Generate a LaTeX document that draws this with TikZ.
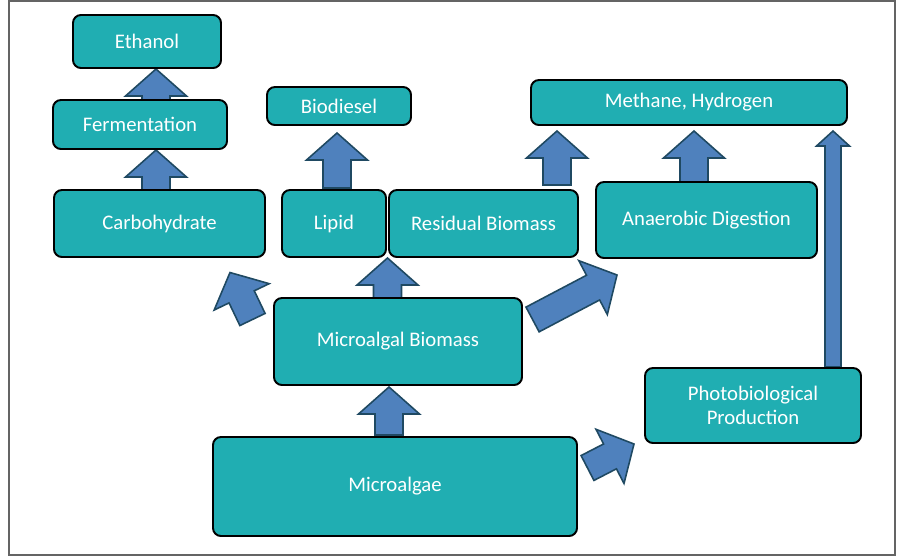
\documentclass[tikz,border=0pt]{standalone}
\usepackage{fontspec}
\setmainfont{Carlito}
\usetikzlibrary{positioning, calc, backgrounds}

\definecolor{boxteal}{RGB}{32,174,178}
\definecolor{arrowblue}{RGB}{79,129,189}
\definecolor{arrowedge}{RGB}{31,73,98}
\definecolor{framegray}{RGB}{100,100,100}

% block arrow: tail, tip, shaft half width, head half width, head length
\newcommand{\blockarrow}[5]{%
  \draw[barrow] let \p1=(#1), \p2=(#2),
      \n1={atan2(\y2-\y1,\x2-\x1)}, \n2={veclen(\x2-\x1,\y2-\y1)} in
    (\p1) ++(\n1+90:#3) -- ++(\n1:\n2*1pt-#5) -- ++(\n1+90:#4-#3) -- (\p2)
    -- ($(\p2)+(\n1+180:#5)+(\n1-90:#4)$) -- ++(\n1+90:#4-#3)
    -- ++(\n1+180:\n2*1pt-#5) -- cycle;}
\newcommand{\fatarrow}[2]{\blockarrow{#1}{#2}{0.28cm}{0.61cm}{0.54cm}}

\begin{document}
\begin{tikzpicture}[x=0.02cm, y=-0.02cm, font=\fontsize{11.8}{14}\selectfont,
  box/.style={draw=black, line width=1.1pt, rounded corners=4.5pt, fill=boxteal,
    text=white, inner sep=0pt, outer sep=0pt, align=center},
  boxsize/.style 2 args={minimum width=#1*0.02cm, minimum height=#2*0.02cm},
  barrow/.style={draw=arrowedge, line width=0.9pt, fill=arrowblue, line join=miter}]
  \useasboundingbox (0,0) rectangle (907,558);
  \draw[framegray, line width=1.2pt] (9,1) rectangle (895,555);

  \node[box, boxsize={148}{53}] (ethanol) at (147,41.5) {Ethanol};
  \node[box, boxsize={174}{49}] (ferm) at (140,124.5) {Fermentation};
  \node[box, boxsize={211}{67}] (carb) at (159.5,223.5) {Carbohydrate};
  \node[box, boxsize={104}{67}] (lipid) at (334,223.5) {Lipid};
  \node[box, boxsize={189}{67}, right=0.06cm of lipid] (resid) {Residual Biomass};
  \node[box, boxsize={144}{38}] (bio) at (339,106) {Biodiesel};
  \node[box, boxsize={316}{45}] (methane) at (689,102.5) {Methane, Hydrogen};
  \node[box, boxsize={221}{76}] (anaer) at (706.5,220) {Anaerobic Digestion};
  \node[box, boxsize={248}{87}] (mbio) at (398,341.5) {Microalgal Biomass};
  \node[box, boxsize={216}{75}] (photo) at (753,405.5) {Photobiological\\Production};
  \node[box, boxsize={364}{99}] (malgae) at (395,486.5) {Microalgae};

  \begin{scope}[on background layer]
    \fatarrow{$(ferm.north)+(16,0)$}{$(ethanol.south)+(9,1)$}
    \fatarrow{$(carb.north)+(-3.5,0)$}{$(ferm.south)+(16,1)$}
    \fatarrow{$(lipid.north)+(3,-2)$}{$(bio.south)+(-2,8)$}
    \fatarrow{$(resid.north)+(73.5,-5)$}{$(methane.south)+(-132,6)$}
    \fatarrow{$(anaer.north)+(-12.5,2)$}{$(methane.south)+(5,6)$}
    \blockarrow{$(photo.north)+(80,-1)$}{$(methane.south)+(144,6)$}{0.16cm}{0.33cm}{0.3cm}
    \fatarrow{$(mbio.north)+(-10.5,0)$}{$(lipid.south east)!.5!(resid.south west)+(0,1)$}
    \fatarrow{$(mbio.west)+(-21.5,-22)$}{$(carb.south)+(70.5,15.5)$}
    \fatarrow{$(mbio.east)+(10.5,-22)$}{$(anaer.south west)+(21,17)$}
    \fatarrow{$(malgae.north)+(-6,-2)$}{$(mbio.south)+(-9,2)$}
    \fatarrow{$(malgae.east)+(10.5,-18.5)$}{$(photo.south west)+(-11,1)$}
  \end{scope}
\end{tikzpicture}
\end{document}
